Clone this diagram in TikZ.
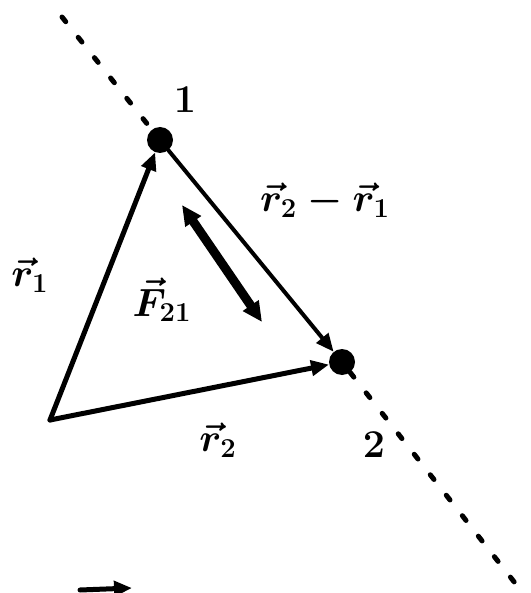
\documentclass[tikz,border=0pt]{standalone}
\usetikzlibrary{arrows.meta}
\begin{document}
\begin{tikzpicture}[x=1pt,y=-1pt,
  vec/.style={line width=5pt, line cap=round, -{Triangle[length=18pt,width=15pt]}},
  force/.style={line width=9pt, {Triangle[length=20pt,width=18pt]}-{Triangle[length=20pt,width=18pt]}},
  dotline/.style={line width=5pt, line cap=round, dash pattern=on 6pt off 20pt},
  lbl/.style={font=\huge\boldmath, scale=1.9, inner sep=1pt},
  particle/.style={circle, fill=black, inner sep=0pt, minimum size=26pt}]
\useasboundingbox (0,0) rectangle (530,593);
\node[particle] (p1) at (160,140) {};
\node[particle] (p2) at (342,362) {};
\coordinate (O) at (50,420);
\coordinate (top) at (62,17);
\coordinate (bot) at (515,583);
\coordinate (fa) at (182,205);
\coordinate (fb) at (262,322);
\coordinate (ba) at (80,590);
\coordinate (bb) at (132,588);
\draw[dotline] (top) -- (p1);
\draw[dotline] (p2) -- (bot);
\draw[vec] (O) -- (p1);
\draw[vec] (O) -- (p2);
\draw[vec, line width=4pt] (p1) -- (p2);
\draw[force] (fa) -- (fb);
\draw[vec] (ba) -- (bb);
\node[lbl] (l1) at (185,100) {$1$};
\node[lbl] (l2) at (374,445) {$2$};
\node[lbl] (lr1) at (30,275) {$\vec r_1$};
\node[lbl] (lr21) at (325,200) {$\vec r_2-\vec r_1$};
\node[lbl] (lf) at (162,300) {$\vec F_{21}$};
\node[lbl] (lr2) at (218,440) {$\vec r_2$};
\end{tikzpicture}
\end{document}
